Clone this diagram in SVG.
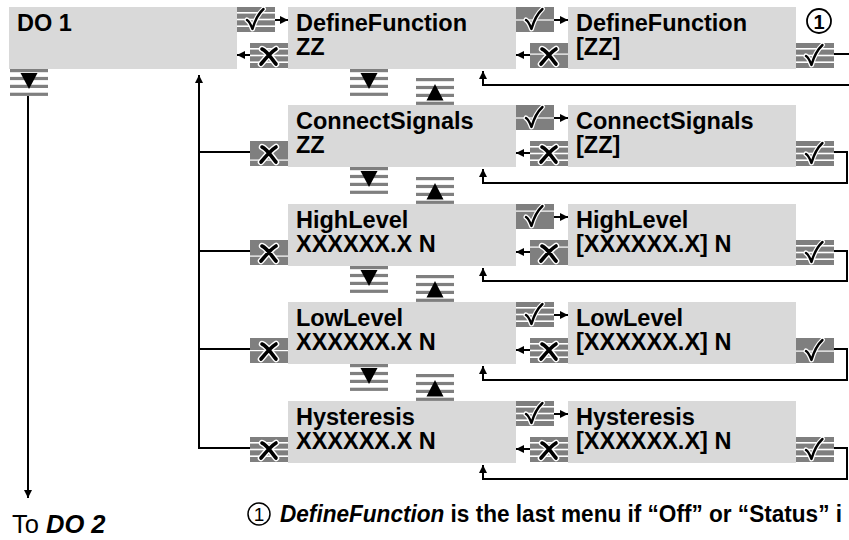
<svg xmlns="http://www.w3.org/2000/svg" xmlns:xlink="http://www.w3.org/1999/xlink" width="849" height="540" viewBox="0 0 849 540">
<style>
.box{fill:#d9d9d9}
.t{font-family:"Liberation Sans",Arial,sans-serif;font-weight:bold;font-size:23.5px;fill:#000}
.bg{fill:#7f7f7f}
.wl{fill:#fff}
.ln{fill:none;stroke:#000;stroke-width:2}
.ar{fill:none;stroke:#000;stroke-width:2;marker-end:url(#ah)}
.ft{font-family:"Liberation Sans",Arial,sans-serif;fill:#000}
</style>
<defs>
<marker id="ah" markerUnits="userSpaceOnUse" markerWidth="9" markerHeight="8" refX="8" refY="4" orient="auto">
<path d="M0,0 L8,4 L0,8 Z" fill="#000"/>
</marker>
<g id="chk">
<path d="M10,13 C12.5,14.5 14,18 15.5,22 C18,13 21,7 26.5,2" fill="none" stroke="#fff" stroke-width="5" stroke-linecap="round" stroke-linejoin="round"/>
<path d="M10,13 C12.5,14.5 14,18 15.5,22 C18,13 21,7 26.5,2" fill="none" stroke="#000" stroke-width="2.4" stroke-linecap="round" stroke-linejoin="round"/>
</g>
<g id="xx">
<path d="M12,6 C17,8 21,15 26,21 M26,6 C21,9 16,15 11,21" fill="none" stroke="#fff" stroke-width="6.5" stroke-linecap="round"/>
<path d="M12,6 C17,8 21,15 26,21 M26,6 C21,9 16,15 11,21" fill="none" stroke="#000" stroke-width="3.6" stroke-linecap="round"/>
</g>
<g id="solid"><rect class="bg" width="38" height="25"/></g>
<g id="strip"><rect class="bg" width="38" height="25"/><rect class="wl" y="5" width="38" height="1.6"/><rect class="wl" y="11.7" width="38" height="1.6"/><rect class="wl" y="18.4" width="38" height="1.6"/></g>
<g id="navbg"><rect class="bg" width="38" height="3.2"/><rect class="bg" y="7.9" width="38" height="3.2"/><rect class="bg" y="15.8" width="38" height="3.2"/><rect class="bg" y="23.7" width="38" height="3.2"/></g>
<g id="down"><use xlink:href="#navbg"/><path d="M10.5,4 L27.5,4 L19,20 Z" fill="#000"/></g>
<g id="up"><use xlink:href="#navbg"/><path d="M10.5,22.5 L27.5,22.5 L19,6 Z" fill="#000"/></g>
</defs>

<g id="connectors">
<path class="ar" d="M28,96 V498"/>
<path class="ar" d="M250,448 H199 V75"/>
<path class="ln" d="M199,152 H250 M199,251 H250 M199,349 H250"/>
<path class="ar" d="M275,20 H288"/>
<path class="ar" d="M250,55 H237"/>
<path class="ar" d="M554,20 H568"/>
<path class="ar" d="M530,55 H516"/>
<path class="ln" d="M834,54 H849"/>
<path class="ar" d="M849,85 H483 V71"/>
<path class="ar" d="M554,118 H568"/>
<path class="ar" d="M530,153 H516"/>
<path class="ar" d="M834,152 H847 V183 H483 V169"/>
<path class="ar" d="M554,217 H568"/>
<path class="ar" d="M530,252 H516"/>
<path class="ar" d="M834,251 H847 V281 H483 V268"/>
<path class="ar" d="M554,315 H568"/>
<path class="ar" d="M530,350 H516"/>
<path class="ar" d="M834,349 H847 V380 H483 V366"/>
<path class="ar" d="M554,414 H568"/>
<path class="ar" d="M530,449 H516"/>
<path class="ar" d="M834,448 H847 V479 H483 V465"/>
</g>

<g id="do1">
<rect class="box" x="9" y="7" width="228" height="62"/>
<text class="t" x="17" y="31">DO 1</text>
<use xlink:href="#down" x="10" y="69"/>
</g>

<g id="row1">
<g id="definefunction">
<rect class="box" x="288" y="7" width="228" height="62"/>
<text class="t" x="296" y="31">DefineFunction</text>
<text class="t" x="296" y="55">ZZ</text>
</g>
<g id="definefunction-edit">
<rect class="box" x="568" y="7" width="228" height="62"/>
<text class="t" x="576" y="31">DefineFunction</text>
<text class="t" x="576" y="55">[ZZ]</text>
</g>
<g id="row1-buttons">
<use xlink:href="#strip" x="237" y="7"/><use xlink:href="#chk" x="237" y="7"/>
<use xlink:href="#strip" x="250" y="43"/><use xlink:href="#xx" x="250" y="43"/>
<use xlink:href="#solid" x="516" y="7"/><rect class="wl" x="516" y="19.4" width="38" height="1.2"/><use xlink:href="#chk" x="516" y="7"/>
<use xlink:href="#solid" x="530" y="43"/><rect class="wl" x="530" y="53.5" width="38" height="1.2"/><use xlink:href="#xx" x="530" y="43"/>
<use xlink:href="#strip" x="796" y="43"/><use xlink:href="#chk" x="796" y="43"/>
<circle cx="819" cy="21" r="12" fill="#fff" stroke="#000" stroke-width="1.8"/>
<text class="ft" x="819" y="28.5" text-anchor="middle" font-size="20" font-weight="bold">1</text>
<use xlink:href="#down" x="350" y="69"/>
<use xlink:href="#up" x="416" y="78"/>
</g>
</g>

<g id="row2">
<g id="connectsignals">
<rect class="box" x="288" y="105" width="228" height="62"/>
<text class="t" x="296" y="129">ConnectSignals</text>
<text class="t" x="296" y="153">ZZ</text>
</g>
<g id="connectsignals-edit">
<rect class="box" x="568" y="105" width="228" height="62"/>
<text class="t" x="576" y="129">ConnectSignals</text>
<text class="t" x="576" y="153">[ZZ]</text>
</g>
<g id="row2-buttons">
<use xlink:href="#solid" x="250" y="141"/><rect class="wl" x="250" y="159.5" width="38" height="1.2"/><use xlink:href="#xx" x="250" y="141"/>
<use xlink:href="#solid" x="516" y="105"/><rect class="wl" x="516" y="117.4" width="38" height="1.2"/><use xlink:href="#chk" x="516" y="105"/>
<use xlink:href="#strip" x="530" y="141"/><use xlink:href="#xx" x="530" y="141"/>
<use xlink:href="#strip" x="796" y="141"/><use xlink:href="#chk" x="796" y="141"/>
<use xlink:href="#down" x="350" y="167"/>
<use xlink:href="#up" x="416" y="177"/>
</g>
</g>

<g id="row3">
<g id="highlevel">
<rect class="box" x="288" y="204" width="228" height="62"/>
<text class="t" x="296" y="228">HighLevel</text>
<text class="t" x="296" y="252">XXXXXX.X N</text>
</g>
<g id="highlevel-edit">
<rect class="box" x="568" y="204" width="228" height="62"/>
<text class="t" x="576" y="228">HighLevel</text>
<text class="t" x="576" y="252">[XXXXXX.X] N</text>
</g>
<g id="row3-buttons">
<use xlink:href="#solid" x="250" y="240"/><rect class="wl" x="250" y="255.5" width="38" height="1.2"/><use xlink:href="#xx" x="250" y="240"/>
<use xlink:href="#solid" x="516" y="204"/><rect class="wl" x="516" y="210.5" width="38" height="1.2"/><use xlink:href="#chk" x="516" y="204"/>
<use xlink:href="#solid" x="530" y="240"/><rect class="wl" x="530" y="246.5" width="38" height="1.2"/><use xlink:href="#xx" x="530" y="240"/>
<use xlink:href="#strip" x="796" y="240"/><use xlink:href="#chk" x="796" y="240"/>
<use xlink:href="#down" x="350" y="266"/>
<use xlink:href="#up" x="416" y="275"/>
</g>
</g>

<g id="row4">
<g id="lowlevel">
<rect class="box" x="288" y="302" width="228" height="62"/>
<text class="t" x="296" y="326">LowLevel</text>
<text class="t" x="296" y="350">XXXXXX.X N</text>
</g>
<g id="lowlevel-edit">
<rect class="box" x="568" y="302" width="228" height="62"/>
<text class="t" x="576" y="326">LowLevel</text>
<text class="t" x="576" y="350">[XXXXXX.X] N</text>
</g>
<g id="row4-buttons">
<use xlink:href="#solid" x="250" y="338"/><rect class="wl" x="250" y="350" width="38" height="1.2"/><use xlink:href="#xx" x="250" y="338"/>
<use xlink:href="#strip" x="516" y="302"/><use xlink:href="#chk" x="516" y="302"/>
<use xlink:href="#strip" x="530" y="338"/><use xlink:href="#xx" x="530" y="338"/>
<use xlink:href="#solid" x="796" y="338"/><rect class="wl" x="796" y="350.5" width="38" height="1.2"/><use xlink:href="#chk" x="796" y="338"/>
<use xlink:href="#down" x="350" y="364"/>
<use xlink:href="#up" x="416" y="374"/>
</g>
</g>

<g id="row5">
<g id="hysteresis">
<rect class="box" x="288" y="401" width="228" height="62"/>
<text class="t" x="296" y="425">Hysteresis</text>
<text class="t" x="296" y="449">XXXXXX.X N</text>
</g>
<g id="hysteresis-edit">
<rect class="box" x="568" y="401" width="228" height="62"/>
<text class="t" x="576" y="425">Hysteresis</text>
<text class="t" x="576" y="449">[XXXXXX.X] N</text>
</g>
<g id="row5-buttons">
<use xlink:href="#strip" x="250" y="437"/><use xlink:href="#xx" x="250" y="437"/>
<use xlink:href="#strip" x="516" y="401"/><use xlink:href="#chk" x="516" y="401"/>
<use xlink:href="#strip" x="530" y="437"/><use xlink:href="#xx" x="530" y="437"/>
<use xlink:href="#strip" x="796" y="437"/><use xlink:href="#chk" x="796" y="437"/>
</g>
</g>

<g id="to-do2">
<text class="ft" x="12" y="533" font-size="25.5">To <tspan font-weight="bold" font-style="italic">DO 2</tspan></text>
</g>
<g id="footnote">
<circle cx="259" cy="514" r="11" fill="#fff" stroke="#000" stroke-width="1.5"/>
<text class="ft" x="259" y="521" text-anchor="middle" font-size="19">1</text>
<text class="ft" x="280" y="522" font-size="23" font-weight="bold" textLength="562" lengthAdjust="spacingAndGlyphs"><tspan font-style="italic">DefineFunction</tspan> is the last menu if “Off” or “Status” i</text>
</g>
</svg>
